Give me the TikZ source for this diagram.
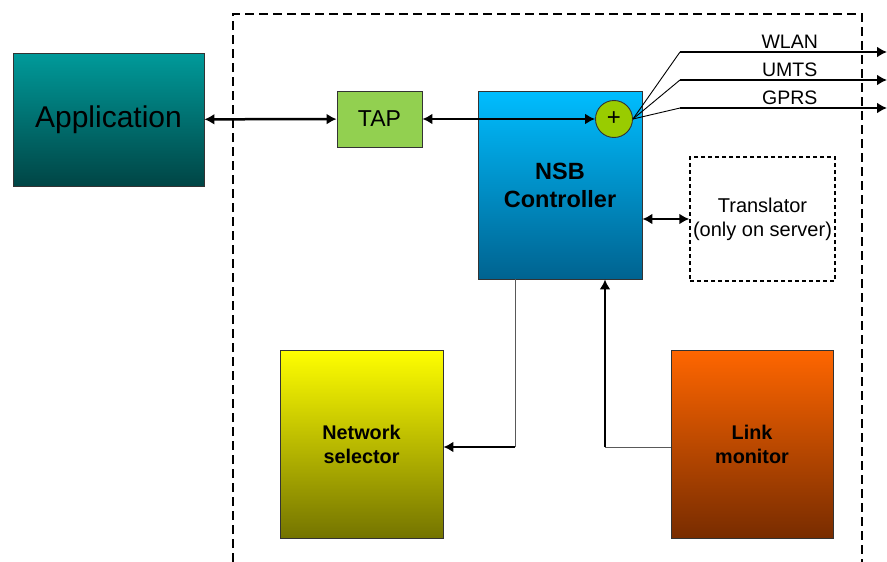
\documentclass[tikz,border=0pt]{standalone}
\usepackage{fontspec}
\setmainfont{Liberation Sans}
\usetikzlibrary{arrows.meta}
\definecolor{appTop}{HTML}{009A9A}
\definecolor{appBot}{HTML}{004545}
\definecolor{tapGreen}{HTML}{92D050}
\definecolor{nsbTop}{HTML}{00BDFF}
\definecolor{nsbBot}{HTML}{006390}
\definecolor{plusGreen}{HTML}{99CC00}
\definecolor{selTop}{HTML}{FFFF00}
\definecolor{selBot}{HTML}{747400}
\definecolor{monTop}{HTML}{FF6600}
\definecolor{monBot}{HTML}{782C00}
\begin{document}
\begin{tikzpicture}[x=1pt, y=-1pt, >={Latex[length=10pt, width=11pt]},
    block/.style={draw=black!80, line width=0.9pt, align=center, inner sep=1pt},
    link/.style={line width=2.5pt},
    wire/.style={line width=0.9pt, black!65}]
\useasboundingbox (0,0) rectangle (887,562);

% Dashed system border
\draw[line width=2pt, dash pattern=on 9pt off 5pt] (233,562) -- (233,14) -- (862,14) -- (862,562);

% Blocks
\node[block, minimum width=191pt, minimum height=133pt, top color=appTop, bottom color=appBot,
    font=\fontsize{30}{34}\selectfont] (app) at (108.5,119.5) {Application};
\node[block, minimum width=85pt, minimum height=56pt, fill=tapGreen,
    font=\fontsize{23}{27}\selectfont] (tap) at (379.5,119) {TAP};
\node[block, minimum width=164pt, minimum height=188pt, top color=nsbTop, bottom color=nsbBot,
    font=\fontsize{23.5}{28}\selectfont\bfseries] (nsb) at (560,185) {NSB\\Controller};
\node[draw=black!80, line width=0.9pt, circle, minimum size=37pt, inner sep=0pt, fill=plusGreen,
    font=\fontsize{24}{28}\selectfont] (plus) at (614,119) {+};
\node[draw, line width=1.5pt, dash pattern=on 4pt off 3pt, minimum width=145pt, minimum height=124pt,
    align=center, inner sep=0pt, font=\fontsize{20}{24}\selectfont] (trans) at (762.5,219)
    {Translator\\(only on server)};
\node[block, minimum width=163pt, minimum height=188pt, top color=selTop, bottom color=selBot,
    font=\fontsize{19.8}{24}\selectfont\bfseries] (netsel) at (361.5,444) {Network\\selector};
\node[block, minimum width=162pt, minimum height=188pt, top color=monTop, bottom color=monBot,
    font=\fontsize{19.8}{24}\selectfont\bfseries] (linkmon) at (752,444) {Link\\monitor};

% Connectors
\draw[link, <->] (app) -- (tap);
\draw[link, <->] (tap) -- (plus);
\draw[link, <->] (nsb.east |- trans) -- (trans);

% Radio channels
\foreach \name/\y in {WLAN/52, UMTS/80, GPRS/108} {
    \coordinate (knee\name) at (680,\y);
    \coordinate (out\name) at (887,\y);
    \draw[wire, black] (plus.east) -- (knee\name);
    \draw[link, ->] (knee\name) -- (out\name)
        node[pos=0.53, above, inner sep=2pt, font=\fontsize{19.5}{23}\selectfont] {\name};
}

% Controller to network selector
\coordinate (sel) at (515,447);
\draw[wire] (nsb.south -| sel) -- (sel);
\draw[link, ->] (sel) -- (sel -| netsel.east);

% Link monitor to controller
\coordinate (mon) at (605,447);
\draw[wire] (mon -| linkmon.west) -- (mon);
\draw[link, ->] (mon) -- (mon |- nsb.south);

\end{tikzpicture}
\end{document}
